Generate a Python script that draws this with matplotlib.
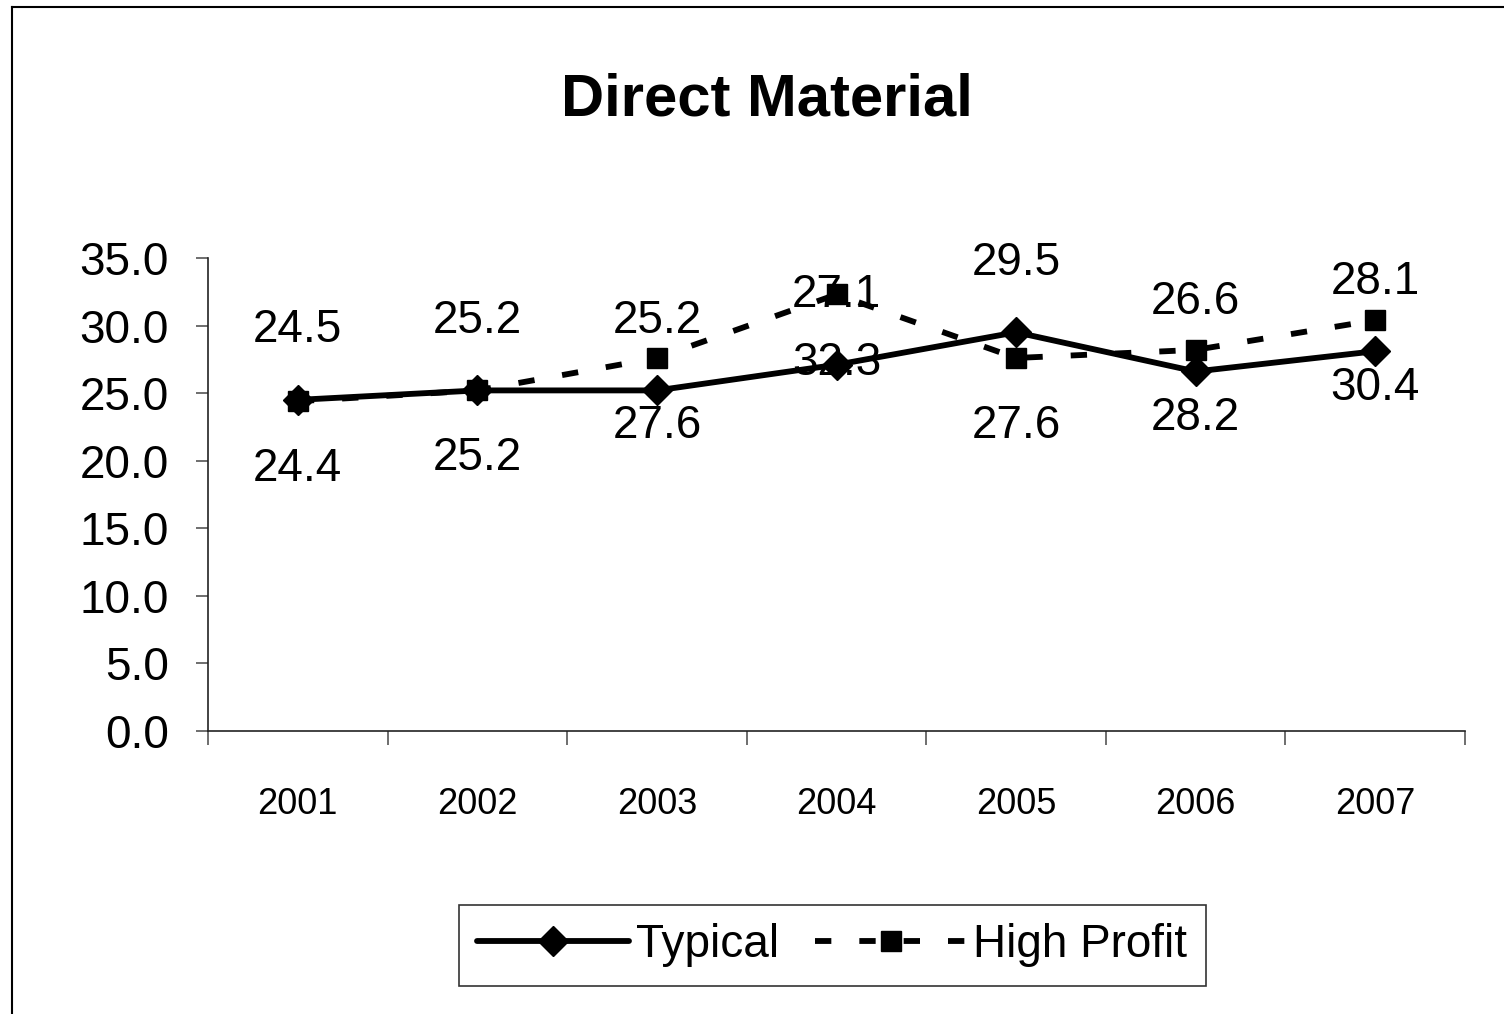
import matplotlib
matplotlib.use('agg')
import matplotlib.pyplot as plt
from matplotlib.lines import Line2D

# данные по годам
years = ['2001', '2002', '2003', '2004', '2005', '2006', '2007']
typical = [24.5, 25.2, 25.2, 27.1, 29.5, 26.6, 28.1]
high_profit = [24.4, 25.2, 27.6, 32.3, 27.6, 28.2, 30.4]

font = ['Liberation Sans', 'DejaVu Sans']
plt.rcParams['font.family'] = font

fig = plt.figure(figsize=(15.04, 10.14), dpi=100)
ax = fig.add_axes([0.1383, 0.2791, 0.8358, 0.4665])

x = list(range(len(years)))
ax.plot(x, typical, color='black', lw=4.2, marker='D', markersize=15,
        solid_capstyle='round', label='Typical')
ax.plot(x, high_profit, color='black', lw=4.2, marker='s', markersize=15,
        dashes=(2.8, 4.8), dash_capstyle='butt', label='High Profit')

# подписи значений: Typical сверху, High Profit снизу
for i in x:
    ax.annotate(f'{typical[i]:.1f}', (i, typical[i]), xytext=(0, 50),
                textcoords='offset points', ha='center', va='center',
                fontsize=33)
    ax.annotate(f'{high_profit[i]:.1f}', (i, high_profit[i]), xytext=(0, -49),
                textcoords='offset points', ha='center', va='center',
                fontsize=33)

ax.set_xlim(-0.5, 6.5)
ax.set_ylim(0, 35)
ax.set_yticks([0, 5, 10, 15, 20, 25, 30, 35])
ax.set_yticklabels([f'{v:.1f}' for v in [0, 5, 10, 15, 20, 25, 30, 35]],
                   fontsize=33)
ax.set_xticks(x)
ax.set_xticklabels(years, fontsize=26)
ax.set_xticks([i - 0.5 for i in range(len(years) + 1)], minor=True)
ax.tick_params(axis='x', which='major', length=0, pad=40)
ax.tick_params(axis='x', which='minor', length=10, width=1.2, color='#555555')
ax.tick_params(axis='y', length=9, width=1.2, color='#555555', pad=19)

for s in ['top', 'right']:
    ax.spines[s].set_visible(False)
for s in ['left', 'bottom']:
    ax.spines[s].set_linewidth(1.2)
    ax.spines[s].set_color('#222222')

fig.text(0.51, 0.901, 'Direct Material', ha='center', va='center',
         fontsize=43, fontweight='bold')

leg = fig.legend(loc='center', bbox_to_anchor=(0.5535, 0.0676), ncol=2,
                 prop={'size': 33}, frameon=True,
                 fancybox=False, handlelength=3.3, handletextpad=0.15,
                 columnspacing=0.8, borderpad=0.4)
leg.get_frame().set_edgecolor('black')
leg.get_frame().set_linewidth(1.2)

# рамка вокруг рисунка (видна только сверху и слева)
fig.add_artist(Line2D([12 / 1504, 1], [1 - 7 / 1014, 1 - 7 / 1014],
                      transform=fig.transFigure, color='black', lw=1.5))
fig.add_artist(Line2D([12 / 1504, 12 / 1504], [0, 1 - 7 / 1014],
                      transform=fig.transFigure, color='black', lw=1.5))

fig.savefig('out.png', dpi=100)
